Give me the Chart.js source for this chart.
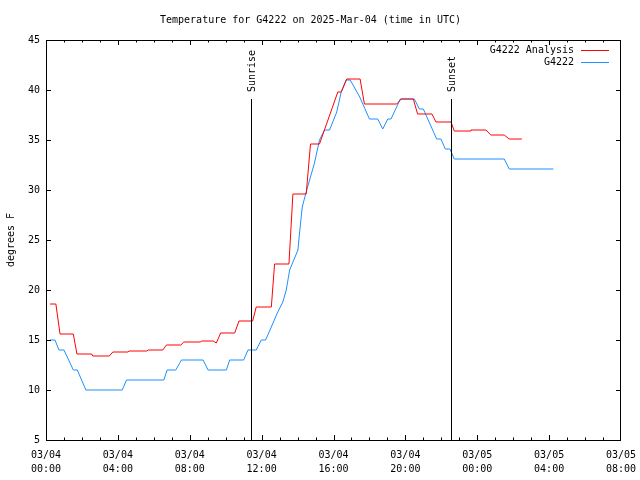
<!DOCTYPE html>
<html>
<head>
<meta charset="utf-8">
<script src="https://cdn.jsdelivr.net/npm/chart.js@4.4.0/dist/chart.umd.min.js"></script>
<style>
html,body{margin:0;padding:0;background:#fff;}
</style>
</head>
<body>
<canvas id="myChart" width="640" height="480"></canvas>
<script>
// hours after 03/04 00:00 UTC
var analysisHours = [0.22,0.55,0.78,1.52,1.72,2.54,2.6,3.52,3.72,4.57,4.62,5.6,5.7,6.5,6.7,7.5,7.67,8.6,8.65,9.3,9.48,9.72,10.5,10.74,11.5,11.7,12.54,12.72,13.52,13.74,14.48,14.72,15.22,16.24,16.43,16.74,17.48,17.72,19.52,19.76,20.44,20.68,21.48,21.7,22.54,22.72,23.6,23.65,24.48,24.76,25.5,25.78,26.48];
var analysisTemps = [18.6,18.6,15.6,15.6,13.6,13.6,13.4,13.4,13.8,13.8,13.9,13.9,14.0,14.0,14.5,14.5,14.8,14.8,14.9,14.9,14.7,15.7,15.7,16.9,16.9,18.3,18.3,22.6,22.6,29.6,29.6,34.6,34.6,39.8,39.8,41.1,41.1,38.6,38.6,39.1,39.1,37.6,37.6,36.8,36.8,35.9,35.9,36.0,36.0,35.5,35.5,35.1,35.1];

var stationHours = [0.22,0.5,0.72,1.0,1.52,1.74,2.22,4.24,4.48,6.56,6.74,7.22,7.54,8.74,9.02,10.04,10.22,11.0,11.24,11.7,11.98,12.22,12.54,12.82,13.18,13.37,13.56,14.02,14.11,14.26,14.48,14.94,15.22,15.5,15.78,16.18,16.43,16.7,16.93,17.46,18.0,18.46,18.74,19.02,19.2,19.72,20.5,20.78,21.0,21.74,21.98,22.22,22.48,22.72,25.5,25.78,28.24];
var stationTemps = [15,15,14,14,12,12,10,10,11,11,12,12,13,13,12,12,13,13,14,14,15,15,16.3,17.5,18.8,20,22,24,25.7,28.3,29.8,32.7,35,36,36,37.8,39.8,41,41,39.3,37.1,37.1,36.1,37.1,37.1,39.1,39.1,38.1,38.1,35.1,35.1,34.1,34.1,33.1,33.1,32.1,32.1];

var sunLabels = ['Sunrise', 'Sunset'];
var sunHours = [11.43, 22.56];
var sunLineTop = 39.1;

var seriesNames = ['G4222 Analysis', 'G4222'];
var seriesColors = ['#ff0000', '#1e90ff'];

var monoFont = "'DejaVu Sans Mono', 'Liberation Mono', monospace";

function toPoints(xs, ys) {
  var out = [];
  for (var i = 0; i < xs.length; i++) out.push({x: xs[i], y: ys[i]});
  return out;
}

function pad2(n) { return (n < 10 ? '0' : '') + n; }

var framePlugin = {
  id: 'frame',
  afterDatasetsDraw: function(chart) {
    var ctx = chart.ctx;
    var a = chart.chartArea;
    var xs = chart.scales.x, ys = chart.scales.y;
    ctx.save();
    ctx.strokeStyle = '#000';
    ctx.lineWidth = 1;

    // sunrise / sunset markers
    ctx.fillStyle = '#000';
    ctx.font = '10px ' + monoFont;
    for (var i = 0; i < sunHours.length; i++) {
      var px = Math.round(xs.getPixelForValue(sunHours[i])) + 0.5;
      var top = ys.getPixelForValue(sunLineTop);
      ctx.beginPath();
      ctx.moveTo(px, top);
      ctx.lineTo(px, a.bottom);
      ctx.stroke();
      ctx.save();
      ctx.translate(px + 1, top - 7);
      ctx.rotate(-Math.PI / 2);
      ctx.textAlign = 'left';
      ctx.textBaseline = 'middle';
      ctx.fillText(sunLabels[i], 0, 0);
      ctx.restore();
    }

    // border
    ctx.strokeRect(a.left + 0.5, a.top + 0.5, a.right - a.left - 1, a.bottom - a.top);

    // ticks, mirrored
    ctx.beginPath();
    for (var h = 1; h < 32; h++) {
      var tx = Math.round(xs.getPixelForValue(h)) + 0.5;
      var len = (h % 4 === 0) ? 5 : 2.5;
      ctx.moveTo(tx, a.bottom); ctx.lineTo(tx, a.bottom - len);
      ctx.moveTo(tx, a.top); ctx.lineTo(tx, a.top + len);
    }
    for (var v = 10; v < 45; v += 5) {
      var ty = Math.round(ys.getPixelForValue(v)) + 0.5;
      ctx.moveTo(a.left, ty); ctx.lineTo(a.left + 5, ty);
      ctx.moveTo(a.right, ty); ctx.lineTo(a.right - 5, ty);
    }
    ctx.stroke();

    // legend
    ctx.textAlign = 'right';
    ctx.textBaseline = 'middle';
    for (var k = 0; k < seriesNames.length; k++) {
      var ly = 50 + k * 12;
      ctx.fillStyle = '#000';
      ctx.fillText(seriesNames[k], 574, ly);
      ctx.strokeStyle = seriesColors[k];
      ctx.beginPath();
      ctx.moveTo(581, ly + 0.5);
      ctx.lineTo(609, ly + 0.5);
      ctx.stroke();
    }
    ctx.restore();
  }
};

var ctx = document.getElementById('myChart').getContext('2d');
var tempChart = new Chart(ctx, {
  type: 'line',
  data: {
    datasets: [{
      label: seriesNames[0],
      data: toPoints(analysisHours, analysisTemps),
      borderColor: seriesColors[0],
      borderWidth: 1,
      pointRadius: 0,
      tension: 0,
      fill: false
    }, {
      label: seriesNames[1],
      data: toPoints(stationHours, stationTemps),
      borderColor: seriesColors[1],
      borderWidth: 1,
      pointRadius: 0,
      tension: 0,
      fill: false
    }]
  },
  options: {
    responsive: false,
    animation: false,
    devicePixelRatio: 1,
    layout: { padding: { left: 0, right: 19, top: 0, bottom: 0 }, autoPadding: false },
    plugins: {
      legend: { display: false },
      tooltip: { enabled: false },
      title: {
        display: true,
        text: 'Temperature for G4222 on 2025-Mar-04 (time in UTC)',
        color: '#000',
        font: { family: monoFont, size: 10, weight: 'normal', lineHeight: 1.2 },
        padding: { top: 14, bottom: 14 }
      }
    },
    scales: {
      x: {
        type: 'linear',
        min: 0,
        max: 32,
        afterFit: function(s) { s.height = 40; s.paddingLeft = 0; s.paddingRight = 0; },
        grid: { display: false, drawTicks: false },
        border: { display: false },
        ticks: {
          stepSize: 4,
          autoSkip: false,
          maxRotation: 0,
          color: '#000',
          padding: 8,
          font: { family: monoFont, size: 10, lineHeight: 1.4 },
          callback: function(value) {
            var day = value < 24 ? '03/04' : '03/05';
            return [day, pad2(value % 24) + ':00'];
          }
        }
      },
      y: {
        min: 5,
        max: 45,
        afterFit: function(s) { s.width = 46; s.paddingTop = 0; s.paddingBottom = 0; },
        grid: { display: false, drawTicks: false },
        border: { display: false },
        title: {
          display: true,
          text: 'degrees F',
          color: '#000',
          font: { family: monoFont, size: 10 },
          padding: { top: 5, bottom: 0 }
        },
        ticks: {
          stepSize: 5,
          color: '#000',
          padding: 6,
          font: { family: monoFont, size: 10 }
        }
      }
    }
  },
  plugins: [framePlugin]
});
</script>
</body>
</html>
